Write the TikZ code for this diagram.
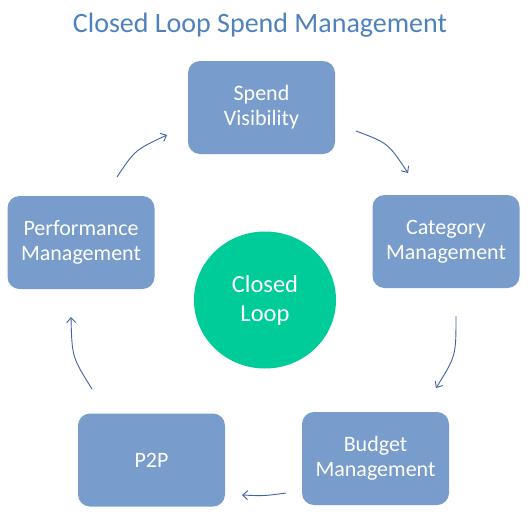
\documentclass[tikz,border=0pt]{standalone}
\usepackage{fontspec}
\setmainfont{Carlito}
\usetikzlibrary{arrows.meta}
\definecolor{boxfill}{HTML}{789CCB}
\definecolor{loopfill}{HTML}{00CC99}
\definecolor{titleblue}{HTML}{4F81BD}
\definecolor{arrowblue}{HTML}{3E63A6}
\begin{document}
\begin{tikzpicture}[x=1pt,y=-1pt,
  stagebox/.style={draw=none, fill=boxfill, rounded corners=12pt, minimum width=147pt, minimum height=93pt,
     text=white, align=center, font=\fontsize{22}{25}\selectfont, inner sep=0pt},
  flow/.style={draw=arrowblue, line width=0.9pt, -{Straight Barb[length=5pt,width=9pt,line width=0.9pt]}}]
\useasboundingbox (0,0) rectangle (528,520);
\fill[white] (0,0) rectangle (528,520);
\node[anchor=base, text=titleblue, font=\fontsize{28}{32}\selectfont] (title) at (260,32) {Closed Loop Spend Management};
\node[stagebox] (sv) at (261.5,107.5) {Spend\\Visibility};
\node[stagebox] (cat) at (446,241.5) {Category\\Management};
\node[stagebox] (bud) at (375.5,458.5) {Budget\\Management};
\node[stagebox] (p2p) at (151.5,460) {P2P};
\node[stagebox] (perf) at (81,242.5) {Performance\\Management};
\fill[loopfill] (265,300) ellipse [x radius=71pt, y radius=68.5pt];
\node[text=white, align=center, font=\fontsize{24.5}{29}\selectfont] (loop) at (265,300) {Closed\\Loop};
\coordinate (a1) at (356,131); \coordinate (b1) at (408,173);
\coordinate (a2) at (456,316); \coordinate (b2) at (436,388);
\coordinate (a3) at (286,493); \coordinate (b3) at (242,495);
\coordinate (a4) at (92,389);  \coordinate (b4) at (71,317);
\coordinate (a5) at (117,177); \coordinate (b5) at (167,135);
\draw[flow] (a1) .. controls (388,143) .. (b1);
\draw[flow] (a2) .. controls (456,356) .. (b2);
\draw[flow] (a3) .. controls (264,496) .. (b3);
\draw[flow] (a4) .. controls (72,357) .. (b4);
\draw[flow] (a5) .. controls (135,150) .. (b5);
\end{tikzpicture}
\end{document}
